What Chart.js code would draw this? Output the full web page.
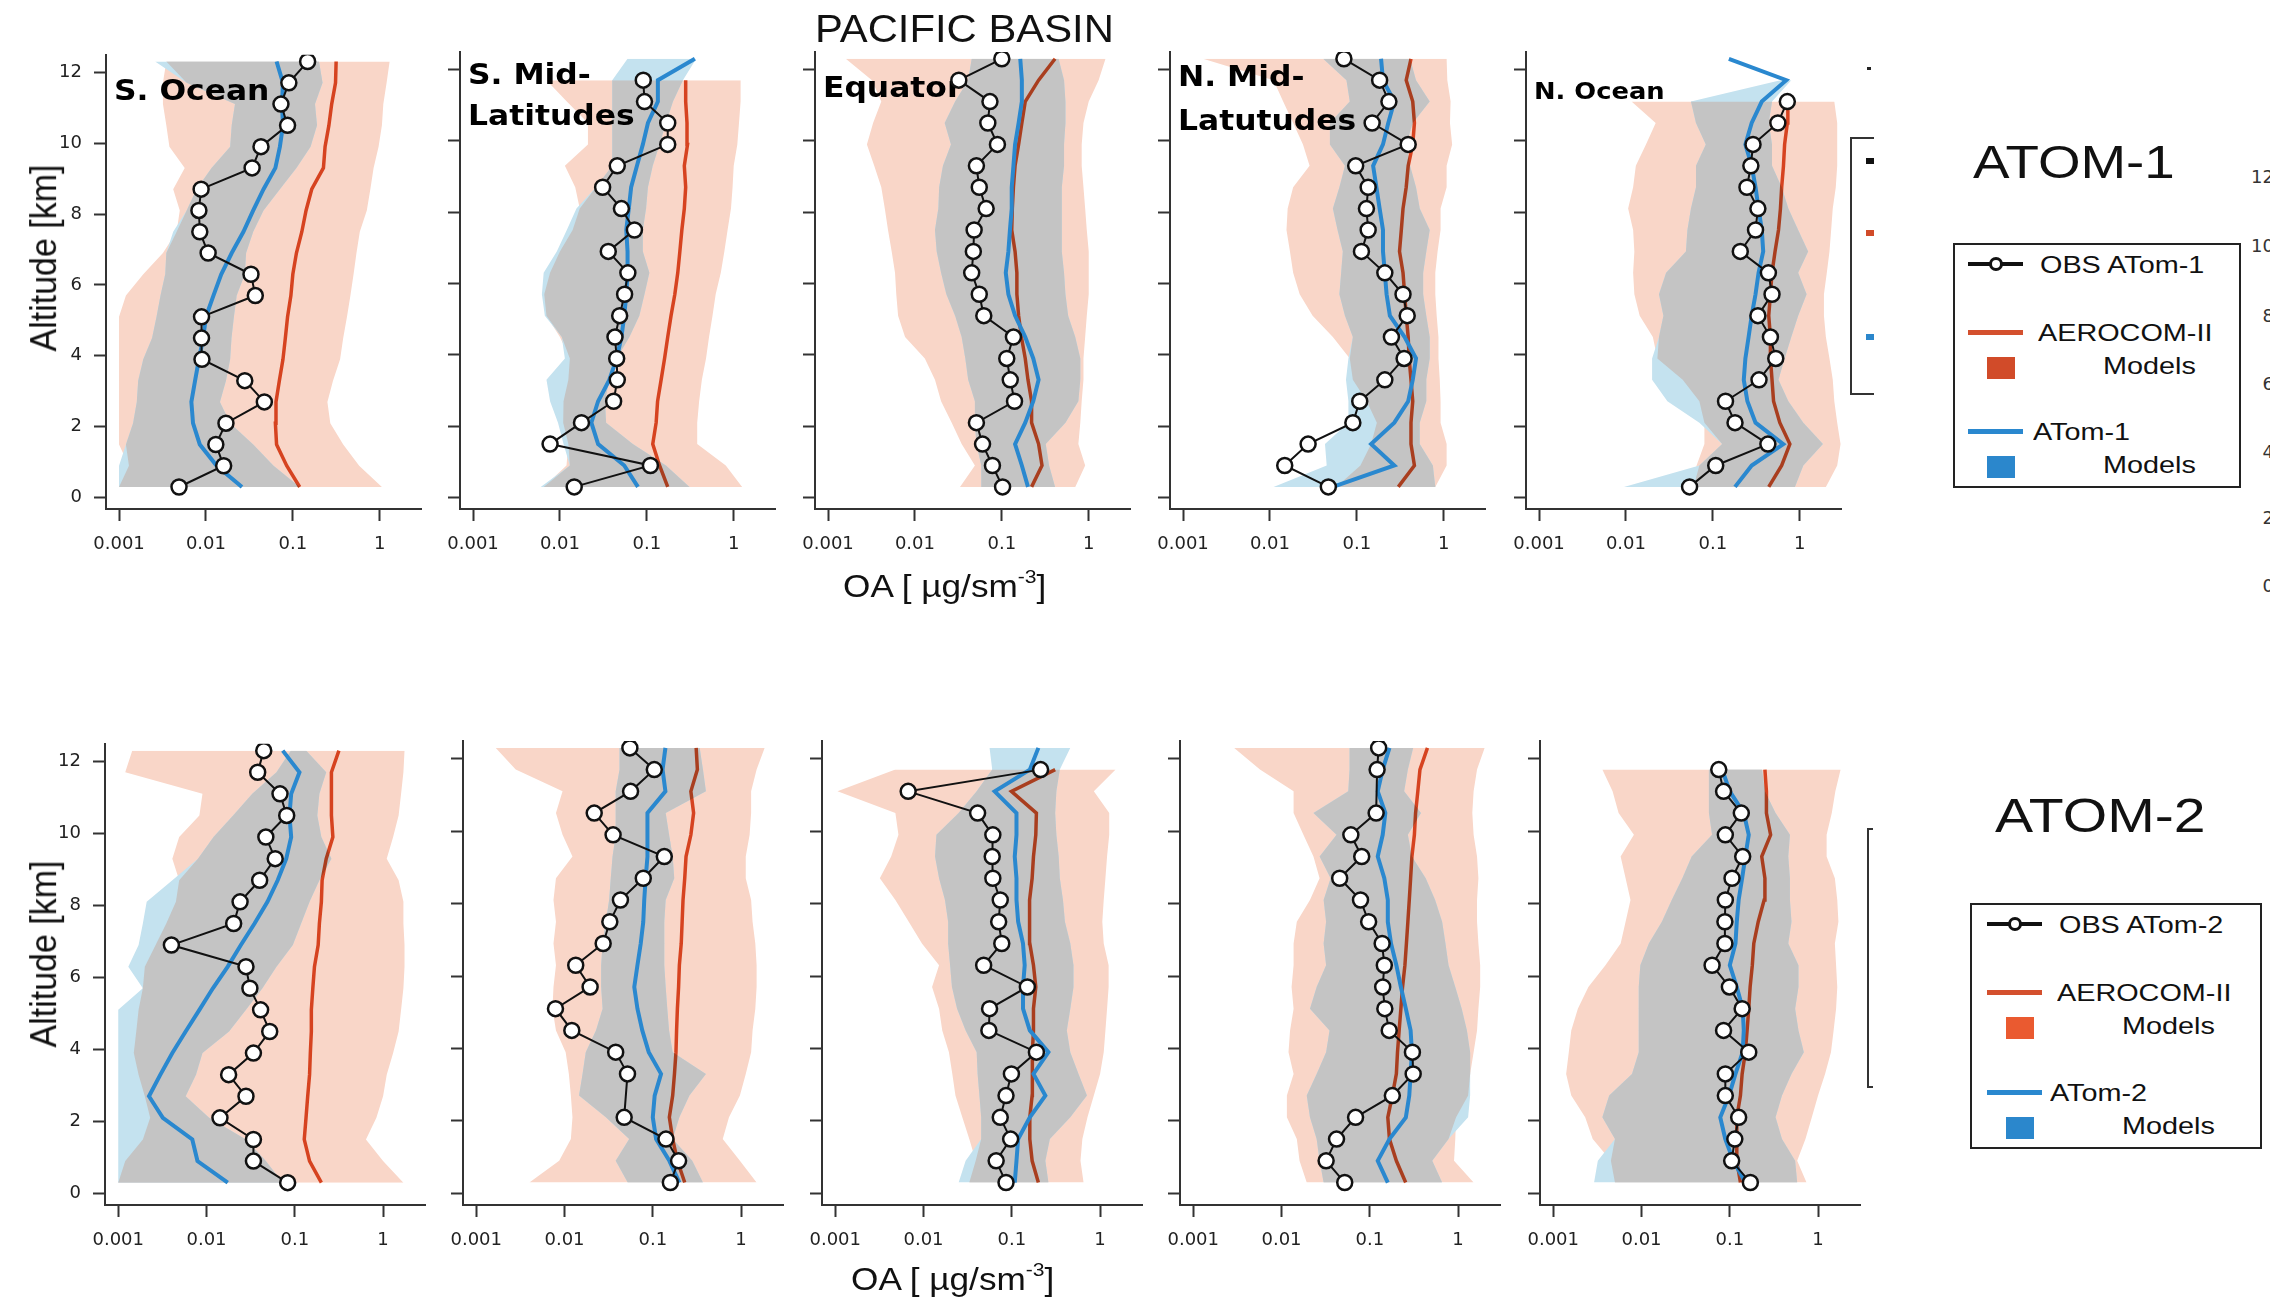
<!DOCTYPE html>
<html>
<head>
<meta charset="utf-8">
<title>Pacific Basin OA profiles</title>
<script src="https://cdn.jsdelivr.net/npm/chart.js@4.4.0/dist/chart.umd.min.js"></script>
<style>
  html, body { margin: 0; padding: 0; background: #fff; }
  body { position: relative; width: 2270px; height: 1297px; overflow: hidden;
         font-family: 'Liberation Sans', Arial, sans-serif; color: #111; }
  canvas { position: absolute; }
  .txt { position: absolute; white-space: nowrap; line-height: 1; transform-origin: 0 50%; }
  .txt sup { font-size: 0.6em; vertical-align: 0; position: relative; top: -0.75em; line-height: 0; }
  .box { position: absolute; box-sizing: border-box; }
</style>
</head>
<body>
<script>
// ---- data ----
const ALTITUDE_KM = [0.3, 0.9, 1.5, 2.1, 2.7, 3.3, 3.9, 4.5, 5.1, 5.7, 6.3, 6.9, 7.5, 8.1, 8.7, 9.3, 9.9, 10.5, 11.1, 11.7, 12.3];
const X_TICKS = [0.001, 0.01, 0.1, 1];
const X_TICK_LABELS = ['0.001', '0.01', '0.1', '1'];
const Y_TICKS = [0, 2, 4, 6, 8, 10, 12];

// ATom-1, S. Ocean
const A1_SO_OBS = [0.0049, 0.016, 0.013, 0.017, 0.047, 0.028, 0.009, 0.0089, 0.0089, 0.037, 0.033, 0.0106, 0.0085, 0.0083, 0.0088, 0.034, 0.043, 0.087, 0.073, 0.090, 0.148];
const A1_SO_AEROCOM = [0.12, 0.085, 0.065, 0.063, 0.064, 0.070, 0.077, 0.082, 0.087, 0.095, 0.10, 0.11, 0.127, 0.142, 0.165, 0.225, 0.235, 0.26, 0.28, 0.31, 0.315];
const A1_SO_AEROCOM_MIN = [0.001, 0.0013, 0.001, 0.001, 0.001, 0.001, 0.001, 0.001, 0.001, 0.0012, 0.0019, 0.0032, 0.0046, 0.005, 0.0042, 0.0057, 0.0038, 0.0035, 0.0032, 0.0032, 0.0035];
const A1_SO_AEROCOM_MAX = [1.06, 0.58, 0.38, 0.27, 0.25, 0.29, 0.35, 0.38, 0.42, 0.46, 0.50, 0.54, 0.59, 0.71, 0.78, 0.85, 0.97, 1.06, 1.1, 1.2, 1.3];
const A1_SO_ATOM = [0.026, 0.0133, 0.0085, 0.0071, 0.0068, 0.0075, 0.0083, 0.0093, 0.010, 0.0122, 0.015, 0.0198, 0.027, 0.035, 0.046, 0.063, 0.071, 0.077, 0.075, 0.077, 0.065];
const A1_SO_ATOM_MIN = [0.001, 0.001, 0.0012, 0.00145, 0.0016, 0.00166, 0.0019, 0.0024, 0.0027, 0.003, 0.0034, 0.0035, 0.0042, 0.006, 0.0078, 0.0116, 0.019, 0.0198, 0.0216, 0.006, 0.0026];
const A1_SO_ATOM_MAX = [0.12, 0.06, 0.035, 0.019, 0.0145, 0.017, 0.019, 0.0197, 0.021, 0.0226, 0.028, 0.029, 0.035, 0.046, 0.071, 0.11, 0.16, 0.19, 0.18, 0.22, 0.2];

// ATom-1, S. Mid-Latitudes
const A1_SM_OBS = [0.0146, 0.11, 0.0077, 0.0177, 0.0415, 0.0457, 0.045, 0.043, 0.0487, 0.0555, 0.0605, 0.036, 0.072, 0.051, 0.031, 0.0457, 0.174, 0.174, 0.094, 0.091, null];
const A1_SM_AEROCOM = [0.174, 0.14, 0.117, 0.128, 0.133, 0.146, 0.16, 0.174, 0.19, 0.21, 0.227, 0.24, 0.253, 0.27, 0.28, 0.27, 0.294, 0.29, 0.28, 0.28, null];
const A1_SM_AEROCOM_MIN = [0.0065, 0.0119, 0.0125, 0.0109, 0.011, 0.0125, 0.013, 0.01, 0.007, 0.0066, 0.0077, 0.01, 0.014, 0.0169, 0.015, 0.0114, 0.021, 0.021, 0.012, 0.007, null];
const A1_SM_AEROCOM_MAX = [1.25, 0.81, 0.38, 0.38, 0.40, 0.43, 0.48, 0.52, 0.57, 0.62, 0.71, 0.78, 0.85, 0.93, 0.97, 1.0, 1.1, 1.15, 1.2, 1.2, null];
const A1_SM_ATOM = [0.079, 0.055, 0.0275, 0.023, 0.0275, 0.037, 0.045, 0.051, 0.055, 0.058, 0.06, 0.06, 0.058, 0.062, 0.066, 0.077, 0.09, 0.103, 0.134, 0.134, 0.357];
const A1_SM_ATOM_MIN = [0.006, 0.013, 0.011, 0.0095, 0.0077, 0.007, 0.0114, 0.0105, 0.0067, 0.0062, 0.0065, 0.0092, 0.012, 0.0155, 0.026, 0.04, 0.04, 0.04, 0.04, 0.04, 0.06];
const A1_SM_ATOM_MAX = [0.31, 0.166, 0.069, 0.034, 0.033, 0.037, 0.045, 0.063, 0.082, 0.094, 0.107, 0.09, 0.09, 0.098, 0.103, 0.117, 0.14, 0.166, 0.2, 0.26, 0.37];

// ATom-1, Equator
const A1_EQ_OBS = [0.102, 0.078, 0.06, 0.051, 0.14, 0.125, 0.114, 0.136, 0.062, 0.055, 0.045, 0.047, 0.048, 0.066, 0.055, 0.051, 0.089, 0.069, 0.073, 0.032, 0.1];
const A1_EQ_AEROCOM = [0.22, 0.29, 0.265, 0.22, 0.22, 0.2, 0.186, 0.168, 0.156, 0.149, 0.149, 0.142, 0.13, 0.132, 0.136, 0.142, 0.156, 0.17, 0.186, 0.265, 0.41];
const A1_EQ_AEROCOM_MIN = [0.033, 0.049, 0.0345, 0.0265, 0.02, 0.017, 0.013, 0.0077, 0.0064, 0.0061, 0.0059, 0.0054, 0.0049, 0.0045, 0.0041, 0.0034, 0.0028, 0.0033, 0.0041, 0.0032, 0.0016];
const A1_EQ_AEROCOM_MAX = [0.7, 0.91, 0.76, 0.8, 0.83, 0.87, 0.87, 0.91, 0.95, 1.0, 1.0, 1.0, 0.95, 0.91, 0.87, 0.83, 0.83, 0.87, 1.0, 1.3, 1.56];
const A1_EQ_ATOM = [0.2, 0.17, 0.142, 0.186, 0.23, 0.265, 0.23, 0.186, 0.142, 0.119, 0.111, 0.119, 0.124, 0.13, 0.13, 0.136, 0.142, 0.156, 0.17, 0.17, 0.163];
const A1_EQ_ATOM_MIN = [0.058, 0.058, 0.051, 0.049, 0.049, 0.041, 0.038, 0.0345, 0.029, 0.023, 0.02, 0.0178, 0.017, 0.0186, 0.019, 0.021, 0.026, 0.022, 0.029, 0.041, 0.045];
const A1_EQ_ATOM_MAX = [0.41, 0.35, 0.32, 0.54, 0.76, 0.8, 0.8, 0.7, 0.58, 0.54, 0.52, 0.49, 0.49, 0.49, 0.49, 0.52, 0.52, 0.54, 0.54, 0.52, 0.45];

// ATom-1, N. Mid-Latitudes
const A1_NM_OBS = [0.047, 0.0148, 0.0275, 0.09, 0.108, 0.21, 0.35, 0.25, 0.38, 0.34, 0.21, 0.113, 0.135, 0.129, 0.135, 0.097, 0.39, 0.15, 0.234, 0.183, 0.071];
const A1_NM_AEROCOM = [0.3, 0.46, 0.42, 0.42, 0.44, 0.42, 0.4, 0.39, 0.37, 0.355, 0.34, 0.31, 0.325, 0.34, 0.37, 0.39, 0.44, 0.46, 0.44, 0.37, 0.42];
const A1_NM_AEROCOM_MIN = [0.058, 0.11, 0.146, 0.17, 0.13, 0.09, 0.083, 0.053, 0.031, 0.022, 0.0185, 0.017, 0.0155, 0.016, 0.0185, 0.0286, 0.024, 0.0185, 0.0142, 0.011, 0.0017];
const A1_NM_AEROCOM_MAX = [0.8, 1.08, 1.08, 0.92, 0.92, 0.9, 0.87, 0.87, 0.83, 0.8, 0.8, 0.85, 0.92, 0.92, 1.08, 1.08, 1.25, 1.18, 1.2, 1.1, 1.08];
const A1_NM_ATOM = [0.053, 0.27, 0.146, 0.27, 0.39, 0.44, 0.48, 0.355, 0.24, 0.22, 0.21, 0.2, 0.2, 0.183, 0.168, 0.154, 0.2, 0.23, 0.27, 0.2, 0.19];
const A1_NM_ATOM_MIN = [0.011, 0.045, 0.043, 0.08, 0.08, 0.075, 0.08, 0.09, 0.073, 0.063, 0.066, 0.069, 0.06, 0.053, 0.063, 0.073, 0.049, 0.049, 0.083, 0.076, 0.041];
const A1_NM_ATOM_MAX = [0.8, 0.75, 0.53, 0.53, 0.63, 0.63, 0.69, 0.69, 0.63, 0.58, 0.58, 0.63, 0.69, 0.53, 0.48, 0.41, 0.37, 0.44, 0.69, 0.48, 0.41];

// ATom-1, N. Ocean
const A1_NO_OBS = [0.054, 0.108, 0.43, 0.18, 0.14, 0.34, 0.53, 0.46, 0.33, 0.48, 0.436, 0.207, 0.31, 0.33, 0.247, 0.274, 0.29, 0.56, 0.72, null, null];
const A1_NO_AEROCOM = [0.44, 0.62, 0.77, 0.59, 0.5, 0.48, 0.46, 0.46, 0.44, 0.46, 0.48, 0.52, 0.57, 0.6, 0.62, 0.65, 0.67, 0.72, 0.73, null, null];
const A1_NO_AEROCOM_MIN = [0.06, 0.065, 0.08, 0.08, 0.07, 0.045, 0.023, 0.0204, 0.0144, 0.0125, 0.0121, 0.0125, 0.0121, 0.0106, 0.0121, 0.013, 0.017, 0.022, 0.0116, null, null];
const A1_NO_AEROCOM_MAX = [2.0, 2.7, 2.95, 2.7, 2.5, 2.4, 2.2, 2.0, 1.9, 1.9, 2.05, 2.2, 2.3, 2.4, 2.6, 2.7, 2.7, 2.7, 2.5, null, null];
const A1_NO_ATOM = [0.18, 0.28, 0.646, 0.31, 0.25, 0.227, 0.237, 0.258, 0.28, 0.31, 0.336, 0.38, 0.366, 0.336, 0.31, 0.28, 0.237, 0.28, 0.366, 0.7, 0.153];
const A1_NO_ATOM_MIN = [0.0095, 0.07, 0.128, 0.07, 0.03, 0.02, 0.02, 0.024, 0.027, 0.024, 0.029, 0.049, 0.051, 0.056, 0.064, 0.064, 0.083, 0.064, 0.056, 0.6, null];
const A1_NO_ATOM_MAX = [0.88, 1.1, 1.85, 1.1, 0.74, 0.57, 0.67, 0.8, 0.96, 1.2, 0.96, 1.25, 0.96, 0.74, 0.62, 0.48, 0.48, 0.44, 0.48, 0.8, null];

// ATom-2, S. Ocean
const A2_SO_OBS = [0.083, 0.034, 0.034, 0.0142, 0.028, 0.0178, 0.034, 0.052, 0.041, 0.031, 0.028, 0.004, 0.0203, 0.024, 0.040, 0.06, 0.047, 0.081, 0.068, 0.038, 0.0445];
const A2_SO_AEROCOM = [0.2, 0.147, 0.128, 0.134, 0.14, 0.147, 0.15, 0.154, 0.154, 0.16, 0.167, 0.184, 0.19, 0.2, 0.204, 0.227, 0.27, 0.26, 0.26, 0.26, 0.316];
const A2_SO_AEROCOM_MIN = [0.001, 0.0012, 0.0019, 0.0023, 0.002, 0.0017, 0.0015, 0.0016, 0.0017, 0.0019, 0.002, 0.00265, 0.0035, 0.0045, 0.0049, 0.0041, 0.0049, 0.0083, 0.009, 0.0012, 0.00144];
const A2_SO_AEROCOM_MAX = [1.7, 1.0, 0.64, 0.84, 1.0, 1.1, 1.3, 1.5, 1.6, 1.7, 1.75, 1.75, 1.7, 1.7, 1.5, 1.1, 1.3, 1.5, 1.6, 1.7, 1.75];
const A2_SO_ATOM = [0.0174, 0.0079, 0.0069, 0.0032, 0.00223, 0.003, 0.0041, 0.0058, 0.0083, 0.0118, 0.0174, 0.0245, 0.035, 0.049, 0.064, 0.08, 0.091, 0.087, 0.091, 0.113, 0.073];
const A2_SO_ATOM_MIN = [0.001, 0.001, 0.001, 0.001, 0.001, 0.001, 0.001, 0.001, 0.001, 0.0019, 0.0013, 0.0017, 0.0019, 0.0021, 0.0041, 0.008, 0.012, 0.02, 0.033, 0.062, 0.09];
const A2_SO_ATOM_MAX = [0.073, 0.047, 0.028, 0.0107, 0.0058, 0.0076, 0.009, 0.018, 0.028, 0.043, 0.062, 0.095, 0.118, 0.147, 0.19, 0.26, 0.2, 0.18, 0.19, 0.227, 0.135];

// ATom-2, S. Mid-Latitudes
const A2_SM_OBS = [0.158, 0.196, 0.141, 0.0474, null, 0.0517, 0.038, 0.0121, 0.0079, 0.0195, 0.0134, 0.0274, 0.0326, 0.043, 0.078, 0.135, 0.0355, 0.0217, 0.056, 0.104, 0.055];
const A2_SM_AEROCOM = [0.23, 0.19, 0.168, 0.154, 0.168, 0.176, 0.183, 0.186, 0.19, 0.196, 0.2, 0.21, 0.215, 0.22, 0.23, 0.238, 0.27, 0.29, 0.27, 0.32, 0.31];
const A2_SM_AEROCOM_MIN = [0.004, 0.0087, 0.0118, 0.0123, 0.0118, 0.0112, 0.0103, 0.008, 0.0073, 0.0075, 0.008, 0.0075, 0.008, 0.0075, 0.008, 0.0123, 0.0095, 0.008, 0.0095, 0.0028, 0.00166];
const A2_SM_AEROCOM_MAX = [1.5, 0.97, 0.62, 0.73, 0.97, 1.13, 1.3, 1.35, 1.45, 1.5, 1.5, 1.45, 1.35, 1.3, 1.13, 1.13, 1.25, 1.3, 1.3, 1.5, 1.85];
const A2_SM_ATOM = [0.2, 0.154, 0.109, 0.1, 0.105, 0.124, 0.09, 0.076, 0.067, 0.0617, 0.067, 0.073, 0.078, 0.08, 0.083, 0.087, 0.087, 0.087, 0.139, 0.129, 0.139];
const A2_SM_ATOM_MIN = [0.052, 0.038, 0.054, 0.0294, 0.0146, 0.016, 0.0174, 0.0227, 0.027, 0.026, 0.026, 0.027, 0.0294, 0.032, 0.0334, 0.035, 0.038, 0.038, 0.038, 0.042, 0.042];
const A2_SM_ATOM_MAX = [0.37, 0.28, 0.168, 0.2, 0.26, 0.4, 0.168, 0.153, 0.146, 0.14, 0.135, 0.135, 0.135, 0.14, 0.175, 0.168, 0.153, 0.14, 0.4, 0.37, 0.34];

// ATom-2, Equator
const A2_EQ_OBS = [0.086, 0.0665, 0.097, 0.074, 0.086, 0.099, 0.19, 0.055, 0.056, 0.15, 0.048, 0.077, 0.071, 0.074, 0.061, 0.06, 0.061, 0.041, 0.0067, 0.212, null];
const A2_EQ_AEROCOM = [0.2, 0.17, 0.16, 0.16, 0.17, 0.172, 0.17, 0.176, 0.176, 0.187, 0.176, 0.16, 0.158, 0.16, 0.17, 0.176, 0.187, 0.19, 0.099, 0.31, null];
const A2_EQ_AEROCOM_MIN = [0.033, 0.039, 0.033, 0.0275, 0.023, 0.0212, 0.0194, 0.0163, 0.015, 0.0125, 0.015, 0.0096, 0.0068, 0.0048, 0.0032, 0.0043, 0.0052, 0.0048, 0.00106, 0.0048, null];
const A2_EQ_AEROCOM_MAX = [0.65, 0.6, 0.63, 0.72, 0.85, 1.0, 1.1, 1.15, 1.2, 1.25, 1.25, 1.1, 1.06, 1.1, 1.15, 1.2, 1.27, 1.27, 0.85, 1.5, null];
const A2_EQ_ATOM = [0.108, 0.113, 0.118, 0.16, 0.24, 0.176, 0.26, 0.16, 0.134, 0.134, 0.14, 0.134, 0.118, 0.113, 0.113, 0.108, 0.113, 0.113, 0.064, 0.16, 0.2];
const A2_EQ_ATOM_MIN = [0.025, 0.03, 0.045, 0.045, 0.043, 0.041, 0.04, 0.03, 0.024, 0.021, 0.02, 0.019, 0.019, 0.0175, 0.015, 0.0135, 0.014, 0.025, 0.04, 0.06, 0.056];
const A2_EQ_ATOM_MAX = [0.26, 0.24, 0.27, 0.46, 0.71, 0.57, 0.46, 0.42, 0.46, 0.5, 0.5, 0.46, 0.4, 0.38, 0.35, 0.34, 0.32, 0.31, 0.32, 0.35, 0.46];

// ATom-2, N. Mid-Latitudes
const A2_NM_OBS = [0.052, 0.032, 0.042, 0.069, 0.18, 0.31, 0.304, 0.166, 0.148, 0.14, 0.146, 0.138, 0.097, 0.0785, 0.0456, 0.081, 0.061, 0.118, null, 0.121, 0.126];
const A2_NM_AEROCOM = [0.255, 0.2, 0.167, 0.16, 0.18, 0.2, 0.206, 0.215, 0.225, 0.235, 0.25, 0.26, 0.27, 0.28, 0.29, 0.3, 0.32, 0.33, 0.35, 0.37, 0.45];
const A2_NM_AEROCOM_MIN = [0.0193, 0.016, 0.0149, 0.0115, 0.0115, 0.0137, 0.012, 0.0125, 0.0137, 0.013, 0.0137, 0.0137, 0.0149, 0.021, 0.027, 0.023, 0.0177, 0.0137, 0.0137, 0.0057, 0.0029];
const A2_NM_AEROCOM_MAX = [1.5, 0.9, 0.93, 0.95, 1.3, 1.37, 1.5, 1.64, 1.7, 1.78, 1.78, 1.7, 1.64, 1.64, 1.7, 1.64, 1.5, 1.45, 1.5, 1.64, 2.0];
const A2_NM_ATOM = [0.16, 0.123, 0.167, 0.256, 0.28, 0.29, 0.3, 0.29, 0.256, 0.225, 0.2, 0.174, 0.16, 0.16, 0.146, 0.123, 0.14, 0.15, 0.123, 0.14, 0.167];
const A2_NM_ATOM_MIN = [0.03, 0.027, 0.025, 0.021, 0.0193, 0.025, 0.032, 0.035, 0.021, 0.025, 0.032, 0.03, 0.032, 0.03, 0.036, 0.027, 0.042, 0.023, 0.057, 0.059, 0.059];
const A2_NM_ATOM_MAX = [0.66, 0.51, 0.78, 1.3, 1.37, 1.37, 1.37, 1.26, 1.1, 0.93, 0.78, 0.72, 0.66, 0.55, 0.43, 0.3, 0.27, 0.38, 0.245, 0.27, 0.31];

// ATom-2, N. Ocean
const A2_NO_OBS = [0.171, 0.105, 0.114, 0.126, 0.089, 0.089, 0.164, 0.085, 0.138, 0.099, 0.063, 0.088, 0.088, 0.089, 0.106, 0.14, 0.089, 0.135, 0.085, 0.075, null];
const A2_NO_AEROCOM = [0.132, 0.12, 0.12, 0.12, 0.132, 0.138, 0.15, 0.157, 0.164, 0.17, 0.18, 0.187, 0.21, 0.245, 0.25, 0.23, 0.29, 0.26, 0.26, 0.25, null];
const A2_NO_AEROCOM_MIN = [0.005, 0.0045, 0.0028, 0.0023, 0.0016, 0.0014, 0.0015, 0.0016, 0.0019, 0.0025, 0.0039, 0.0058, 0.0066, 0.0075, 0.0066, 0.0058, 0.0082, 0.0055, 0.0047, 0.0036, null];
const A2_NO_AEROCOM_MAX = [0.74, 0.58, 0.72, 0.85, 1.0, 1.2, 1.4, 1.5, 1.6, 1.65, 1.6, 1.55, 1.7, 1.65, 1.55, 1.25, 1.25, 1.43, 1.57, 1.8, null];
const A2_NO_ATOM = [0.15, 0.11, 0.089, 0.078, 0.098, 0.116, 0.14, 0.144, 0.14, 0.12, 0.1, 0.116, 0.12, 0.126, 0.138, 0.15, 0.164, 0.144, 0.1, 0.082, null];
const A2_NO_ATOM_MIN = [0.0029, 0.0032, 0.005, 0.0036, 0.0043, 0.0078, 0.0093, 0.0093, 0.0093, 0.0093, 0.0097, 0.0121, 0.017, 0.022, 0.029, 0.037, 0.063, 0.058, 0.058, 0.058, null];
const A2_NO_ATOM_MAX = [0.58, 0.55, 0.39, 0.33, 0.39, 0.5, 0.69, 0.6, 0.55, 0.6, 0.6, 0.46, 0.5, 0.48, 0.48, 0.46, 0.48, 0.33, 0.25, 0.232, null];

// ---- styles ----
const PINK = '#f9d6c8';
const LIGHT_BLUE = '#c4e2ef';
const GRAY = '#c4c4c4';
const RED = '#dc5028';
const BLUE = '#2a88cf';
const AXIS = '#333';

// ---- layout (pixels) ----
const PAD = { l: 60, r: 10, t: 20, b: 56 };
const ROWS = [
  { top: 52, bottom: 509, dec: 87, x001: [118.7, 473.4, 828.1, 1182.8, 1538.9] },
  { top: 741, bottom: 1205, dec: 88.3, x001: [118.7, 476.3, 835.3, 1192.9, 1553.4] }
];

const PANELS = [
  { row: 0, col: 0, title: ['S. Ocean'], base: [45], size: 28, obs: A1_SO_OBS, aero: A1_SO_AEROCOM, aeroMin: A1_SO_AEROCOM_MIN, aeroMax: A1_SO_AEROCOM_MAX, atom: A1_SO_ATOM, atomMin: A1_SO_ATOM_MIN, atomMax: A1_SO_ATOM_MAX },
  { row: 0, col: 1, title: ['S. Mid-', 'Latitudes'], base: [32, 73], size: 28, obs: A1_SM_OBS, aero: A1_SM_AEROCOM, aeroMin: A1_SM_AEROCOM_MIN, aeroMax: A1_SM_AEROCOM_MAX, atom: A1_SM_ATOM, atomMin: A1_SM_ATOM_MIN, atomMax: A1_SM_ATOM_MAX },
  { row: 0, col: 2, title: ['Equator'], base: [45], size: 28, obs: A1_EQ_OBS, aero: A1_EQ_AEROCOM, aeroMin: A1_EQ_AEROCOM_MIN, aeroMax: A1_EQ_AEROCOM_MAX, atom: A1_EQ_ATOM, atomMin: A1_EQ_ATOM_MIN, atomMax: A1_EQ_ATOM_MAX },
  { row: 0, col: 3, title: ['N. Mid-', 'Latutudes'], base: [34, 78], size: 28, obs: A1_NM_OBS, aero: A1_NM_AEROCOM, aeroMin: A1_NM_AEROCOM_MIN, aeroMax: A1_NM_AEROCOM_MAX, atom: A1_NM_ATOM, atomMin: A1_NM_ATOM_MIN, atomMax: A1_NM_ATOM_MAX },
  { row: 0, col: 4, title: ['N. Ocean'], base: [47], size: 23, obs: A1_NO_OBS, aero: A1_NO_AEROCOM, aeroMin: A1_NO_AEROCOM_MIN, aeroMax: A1_NO_AEROCOM_MAX, atom: A1_NO_ATOM, atomMin: A1_NO_ATOM_MIN, atomMax: A1_NO_ATOM_MAX },
  { row: 1, col: 0, title: [], base: [], size: 28, obs: A2_SO_OBS, aero: A2_SO_AEROCOM, aeroMin: A2_SO_AEROCOM_MIN, aeroMax: A2_SO_AEROCOM_MAX, atom: A2_SO_ATOM, atomMin: A2_SO_ATOM_MIN, atomMax: A2_SO_ATOM_MAX },
  { row: 1, col: 1, title: [], base: [], size: 28, obs: A2_SM_OBS, aero: A2_SM_AEROCOM, aeroMin: A2_SM_AEROCOM_MIN, aeroMax: A2_SM_AEROCOM_MAX, atom: A2_SM_ATOM, atomMin: A2_SM_ATOM_MIN, atomMax: A2_SM_ATOM_MAX },
  { row: 1, col: 2, title: [], base: [], size: 28, obs: A2_EQ_OBS, aero: A2_EQ_AEROCOM, aeroMin: A2_EQ_AEROCOM_MIN, aeroMax: A2_EQ_AEROCOM_MAX, atom: A2_EQ_ATOM, atomMin: A2_EQ_ATOM_MIN, atomMax: A2_EQ_ATOM_MAX },
  { row: 1, col: 3, title: [], base: [], size: 28, obs: A2_NM_OBS, aero: A2_NM_AEROCOM, aeroMin: A2_NM_AEROCOM_MIN, aeroMax: A2_NM_AEROCOM_MAX, atom: A2_NM_ATOM, atomMin: A2_NM_ATOM_MIN, atomMax: A2_NM_ATOM_MAX },
  { row: 1, col: 4, title: [], base: [], size: 28, obs: A2_NO_OBS, aero: A2_NO_AEROCOM, aeroMin: A2_NO_AEROCOM_MIN, aeroMax: A2_NO_AEROCOM_MAX, atom: A2_NO_ATOM, atomMin: A2_NO_ATOM_MIN, atomMax: A2_NO_ATOM_MAX }
];

// turns a list of values into {x, y} points along the altitude grid
function profile(values) {
  return ALTITUDE_KM.map((alt, i) => ({ x: values[i], y: alt }));
}

// grey = where the two model ranges overlap
function overlap(a, b, pick) {
  return a.map((v, i) => (v == null || b[i] == null) ? null : pick(v, b[i]));
}

// draws the region name over the bands, and multiplies the AeroCom line onto them
function panelPlugin(p) {
  return {
    id: 'panelExtras',
    beforeDatasetDraw(chart, args) {
      const ds = chart.data.datasets[args.index];
      if (ds.isAerocomLine) {
        const ctx = chart.ctx, area = chart.chartArea;
        p.title.forEach((line, k) => {
          ctx.save();
          ctx.fillStyle = '#000';
          ctx.font = `bold ${p.size}px "DejaVu Sans"`;
          ctx.textBaseline = 'alphabetic';
          ctx.translate(area.left + 8, area.top + p.base[k]);
          ctx.scale(1.12, 1);
          ctx.fillText(line, 0, 0);
          ctx.restore();
        });
        ctx.save();
        ctx.globalCompositeOperation = 'multiply';
      }
    },
    afterDatasetDraw(chart, args) {
      if (chart.data.datasets[args.index].isAerocomLine) chart.ctx.restore();
    }
  };
}

function makePanel(p) {
  const row = ROWS[p.row];
  const left = Math.round(row.x001[p.col] - 0.15 * row.dec);
  const width = Math.round(3.625 * row.dec);
  const height = row.bottom - row.top;

  const canvas = document.createElement('canvas');
  canvas.width = PAD.l + width + PAD.r;
  canvas.height = PAD.t + height + PAD.b;
  canvas.style.left = (left - PAD.l) + 'px';
  canvas.style.top = (row.top - PAD.t) + 'px';
  document.body.appendChild(canvas);

  const hidden = { borderColor: 'rgba(0,0,0,0)', borderWidth: 1, pointRadius: 0, fill: false, tension: 0 };
  const gLo = overlap(p.aeroMin, p.atomMin, Math.max);
  const gHi = overlap(p.aeroMax, p.atomMax, Math.min);

  const datasets = [
    { ...hidden, data: profile(p.aeroMin), order: 20 },
    { ...hidden, data: profile(p.aeroMax), order: 19, fill: '-1', backgroundColor: PINK },
    { ...hidden, data: profile(p.atomMin), order: 18 },
    { ...hidden, data: profile(p.atomMax), order: 17, fill: '-1', backgroundColor: LIGHT_BLUE },
    { ...hidden, data: profile(gLo), order: 16 },
    { ...hidden, data: profile(gHi), order: 15, fill: '-1', backgroundColor: GRAY },
    { data: profile(p.aero), borderColor: RED, borderWidth: 3.5, pointRadius: 0, fill: false, tension: 0, order: 3, isAerocomLine: true },
    { data: profile(p.atom), borderColor: BLUE, borderWidth: 4, pointRadius: 0, fill: false, tension: 0, order: 2 },
    { data: profile(p.obs), borderColor: '#111', borderWidth: 2, pointRadius: 7.5, pointBorderWidth: 2.5,
      pointBackgroundColor: '#fff', pointBorderColor: '#111', spanGaps: true, fill: false, tension: 0, order: 1 }
  ];

  const showY = p.col === 0;
  new Chart(canvas, {
    type: 'line',
    data: { datasets },
    plugins: [panelPlugin(p)],
    options: {
      indexAxis: 'y',
      responsive: false,
      animation: false,
      events: [],
      layout: { padding: { top: PAD.t, right: PAD.r, left: 0, bottom: 0 } },
      plugins: { legend: { display: false }, tooltip: { enabled: false } },
      scales: {
        x: {
          type: 'logarithmic',
          position: 'bottom',
          min: Math.pow(10, -3.15),
          max: Math.pow(10, 0.475),
          afterBuildTicks: s => { s.ticks = X_TICKS.map(v => ({ value: v })); },
          afterFit: s => { s.height = PAD.b; },
          ticks: {
            autoSkip: false, maxRotation: 0, padding: 13, color: '#222',
            font: { family: 'DejaVu Sans', size: 18 },
            callback: v => X_TICK_LABELS[X_TICKS.indexOf(v)]
          },
          grid: { drawOnChartArea: false, drawTicks: true, tickLength: 12, tickWidth: 2, tickColor: AXIS },
          border: { display: true, color: AXIS, width: 2 }
        },
        y: {
          type: 'linear',
          position: 'left',
          min: -0.32,
          max: 12.49,
          afterBuildTicks: s => { s.ticks = Y_TICKS.map(v => ({ value: v })); },
          afterFit: s => { s.width = PAD.l; },
          ticks: {
            display: showY, padding: 12, color: '#222',
            font: { family: 'DejaVu Sans', size: 18 },
            callback: v => String(v)
          },
          grid: { drawOnChartArea: false, drawTicks: true, tickLength: 12, tickWidth: 2, tickColor: AXIS },
          border: { display: true, color: AXIS, width: 2 }
        }
      }
    }
  });
}

PANELS.forEach(makePanel);

// ---- text and legends (HTML) ----
function addText(html, x, baseline, size, opts = {}) {
  const el = document.createElement('div');
  el.className = 'txt';
  el.innerHTML = html;
  el.style.left = x + 'px';
  el.style.top = (baseline - 0.846 * size) + 'px';
  el.style.fontSize = size + 'px';
  if (opts.family) el.style.fontFamily = opts.family;
  if (opts.color) el.style.color = opts.color;
  if (opts.sx) el.style.transform = `scaleX(${opts.sx})`;
  if (opts.right != null) { el.style.left = 'auto'; el.style.right = opts.right + 'px'; }
  document.body.appendChild(el);
  return el;
}

function addBox(x, y, w, h, css) {
  const el = document.createElement('div');
  el.className = 'box';
  el.style.left = x + 'px'; el.style.top = y + 'px';
  el.style.width = w + 'px'; el.style.height = h + 'px';
  Object.assign(el.style, css);
  document.body.appendChild(el);
  return el;
}

function addAltitudeLabel(cx, cy) {
  const el = document.createElement('div');
  el.className = 'txt';
  el.textContent = 'Altitude [km]';
  el.style.fontSize = '34px';
  el.style.left = cx + 'px';
  el.style.top = cy + 'px';
  el.style.transformOrigin = '50% 50%';
  el.style.transform = 'translate(-50%, -50%) rotate(-90deg) scaleY(1.1)';
  document.body.appendChild(el);
}

addText('PACIFIC BASIN', 815, 42, 38, { sx: 1.1 });
addText('OA [ µg/sm<sup>-3</sup>]', 843, 597, 32, { sx: 1.1 });
addText('OA [ µg/sm<sup>-3</sup>]', 851, 1290, 32, { sx: 1.1 });
addAltitudeLabel(43, 258);
addAltitudeLabel(43, 954);

function legend(cfg) {
  addText(cfg.title, cfg.titleX, cfg.titleBase, cfg.titleSize, { sx: 1.19 });
  addBox(cfg.bx, cfg.by, cfg.bw, cfg.bh, { border: '2.5px solid #222' });
  // OBS symbol
  addBox(cfg.lx, cfg.obsY - 2, 55, 4, { background: '#111' });
  addBox(cfg.lx + 21, cfg.obsY - 7, 14, 14, { background: '#fff', border: '3px solid #111', borderRadius: '50%' });
  addText('OBS ' + cfg.name, cfg.obsTx, cfg.obsY + 9, 24, { sx: 1.2 });
  // AeroCom
  addBox(cfg.lx, cfg.redY - 2, 55, 5, { background: cfg.redLine });
  addText('AEROCOM-II', cfg.redTx, cfg.redY + 9, 24, { sx: 1.2 });
  addBox(cfg.lx + 19, cfg.redY + 25, 28, 22, { background: cfg.redSq });
  addText('Models', cfg.modelsX, cfg.redY + 42, 24, { sx: 1.2 });
  // ATom models
  addBox(cfg.lx, cfg.blueY - 2, 55, 5, { background: BLUE });
  addText(cfg.name, cfg.blueTx, cfg.blueY + 9, 24, { sx: 1.2 });
  addBox(cfg.lx + 19, cfg.blueY + 25, 28, 22, { background: '#2b87cc' });
  addText('Models', cfg.modelsX, cfg.blueY + 42, 24, { sx: 1.2 });
}

legend({ title: 'ATOM-1', titleX: 1973, titleBase: 178, titleSize: 46, name: 'ATom-1',
  bx: 1953, by: 243, bw: 288, bh: 245, lx: 1968,
  obsY: 264, obsTx: 2040, redY: 332, redTx: 2038, blueY: 431, blueTx: 2033, modelsX: 2103,
  redLine: '#d4502e', redSq: '#d14b29' });

legend({ title: 'ATOM-2', titleX: 1995, titleBase: 833, titleSize: 48, name: 'ATom-2',
  bx: 1970, by: 903, bw: 292, bh: 246, lx: 1987,
  obsY: 924, obsTx: 2059, redY: 992, redTx: 2057, blueY: 1092, blueTx: 2050, modelsX: 2122,
  redLine: '#d4502e', redSq: '#ea5a30' });

// pieces of neighbouring figures cut by the crop
addBox(1850, 137, 24, 258, { borderLeft: '2.5px solid #333', borderTop: '2.5px solid #333', borderBottom: '2.5px solid #333' });
addBox(1866, 158, 8, 6, { background: '#111' });
addBox(1866, 230, 8, 6, { background: '#d14b29' });
addBox(1866, 334, 8, 6, { background: '#2b87cc' });
addBox(1867, 828, 6, 260, { borderLeft: '2.5px solid #333', borderTop: '2.5px solid #333', borderBottom: '2.5px solid #333' });
addBox(1867, 67, 4, 3, { background: '#222' });

const CUT_LABELS = ['12', '10', '8', '6', '4', '2', '0'];
const CUT_LABEL_Y = [183, 252, 322, 390, 458, 524, 592];
CUT_LABELS.forEach((t, i) => addText(t, 0, CUT_LABEL_Y[i], 18, { family: 'DejaVu Sans', color: '#333', right: -4 }));
</script>
</body>
</html>
